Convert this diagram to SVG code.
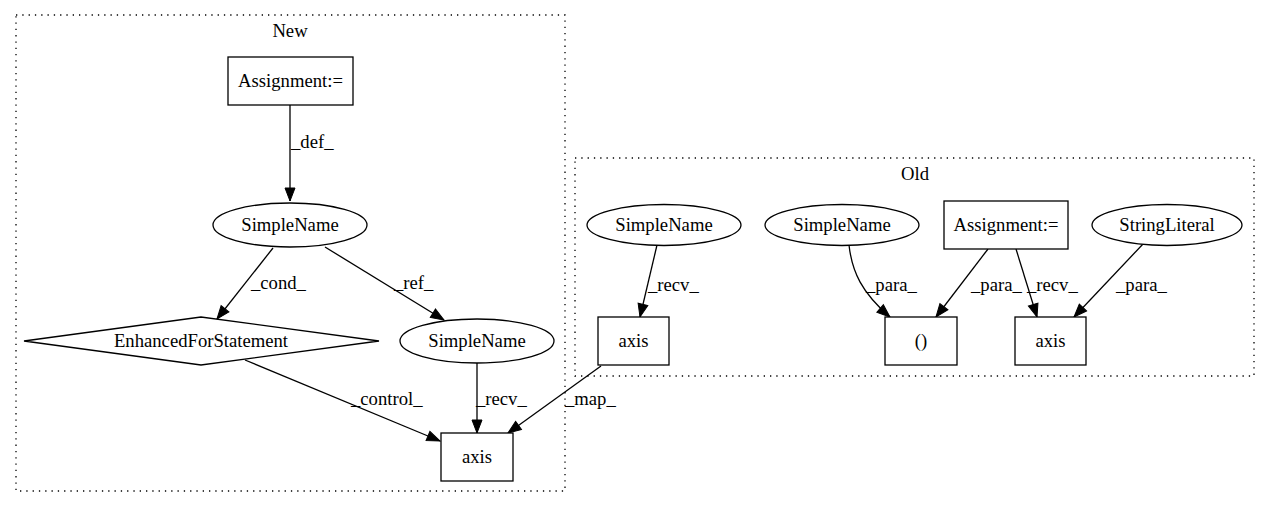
<svg xmlns="http://www.w3.org/2000/svg" width="1269" height="508" viewBox="0 0 1269 508">
<style>
text{font-family:"Liberation Serif",serif;font-size:18.67px;fill:#000}
.c{text-anchor:middle}
.n{fill:#fff;stroke:#000;stroke-width:1.3}
.cl{fill:none;stroke:#000;stroke-width:1.3;stroke-dasharray:1.3,5}
.e{fill:none;stroke:#000;stroke-width:1.3;marker-end:url(#a)}
</style>
<defs>
<marker id="a" markerUnits="userSpaceOnUse" markerWidth="14" markerHeight="10" refX="13" refY="5" orient="auto" overflow="visible">
<path d="M0,0 L13,5 L0,10 z" fill="#000" stroke="#000" stroke-width="1"/>
</marker>
</defs>
<g id="cluster-new">
<rect class="cl" x="16" y="15" width="549" height="476"/>
<text class="c" x="290" y="37" font-family="Liberation Serif, serif">New</text>
</g>
<g id="cluster-old">
<rect class="cl" x="575" y="158" width="679" height="218"/>
<text class="c" x="915" y="180">Old</text>
</g>
<g id="connectors">
<path class="e" d="M290,105 L290,201"/>
<text x="291" y="148">_def_</text>
<path class="e" d="M273,248 L217,319"/>
<text x="251" y="289">_cond_</text>
<path class="e" d="M325,247 L444,320"/>
<text x="394" y="289">_ref_</text>
<path class="e" d="M245,360 L440,441"/>
<text x="351" y="405">_control_</text>
<path class="e" d="M477,363 L477,433"/>
<text x="476" y="405">_recv_</text>
<path class="e" d="M601,366 L508,433"/>
<text x="565" y="405">_map_</text>
<path class="e" d="M657,245 L640,317"/>
<text x="648" y="291">_recv_</text>
<path class="e" d="M849,245 C852,272 862,293 890,317"/>
<text x="866" y="291">_para_</text>
<path class="e" d="M988,249 L936,317"/>
<text x="971" y="291">_para_</text>
<path class="e" d="M1016,249 L1037,317"/>
<text x="1027" y="291">_recv_</text>
<path class="e" d="M1143,244 L1074,317"/>
<text x="1116" y="291">_para_</text>
</g>
<g id="new-assignment">
<rect class="n" x="228" y="57" width="125" height="48"/>
<text class="c" x="290.5" y="87">Assignment:=</text>
</g>
<g id="new-simplename1">
<ellipse class="n" cx="290" cy="225" rx="77" ry="22"/>
<text class="c" x="290" y="231">SimpleName</text>
</g>
<g id="new-enhancedfor">
<polygon class="n" points="24,341 201,317 379,341 201,365"/>
<text class="c" x="201" y="347">EnhancedForStatement</text>
</g>
<g id="new-simplename2">
<ellipse class="n" cx="477" cy="341" rx="77" ry="22"/>
<text class="c" x="477" y="347">SimpleName</text>
</g>
<g id="new-axis">
<rect class="n" x="441" y="433" width="72" height="48"/>
<text class="c" x="477" y="463">axis</text>
</g>
<g id="old-simplename-a">
<ellipse class="n" cx="664" cy="225" rx="77" ry="20.5"/>
<text class="c" x="664" y="231">SimpleName</text>
</g>
<g id="old-simplename-b">
<ellipse class="n" cx="842" cy="225" rx="77" ry="20.5"/>
<text class="c" x="842" y="231">SimpleName</text>
</g>
<g id="old-assignment">
<rect class="n" x="944" y="201" width="124" height="48"/>
<text class="c" x="1006" y="231">Assignment:=</text>
</g>
<g id="old-stringliteral">
<ellipse class="n" cx="1167" cy="225" rx="75" ry="20.5"/>
<text class="c" x="1167" y="231">StringLiteral</text>
</g>
<g id="old-axis-a">
<rect class="n" x="598" y="317" width="71" height="48"/>
<text class="c" x="633.5" y="347">axis</text>
</g>
<g id="old-call">
<rect class="n" x="885" y="317" width="72" height="48"/>
<text class="c" x="921" y="347">()</text>
</g>
<g id="old-axis-b">
<rect class="n" x="1015" y="317" width="71" height="48"/>
<text class="c" x="1050.5" y="347">axis</text>
</g>
</svg>
